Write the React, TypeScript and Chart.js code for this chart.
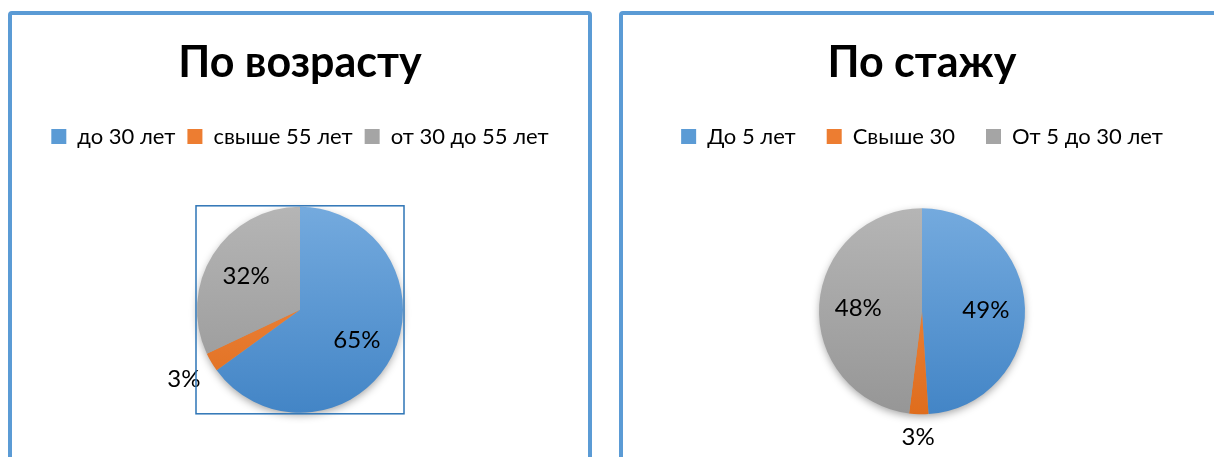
import React, { useEffect, useRef } from "react";
import { Chart, registerables } from "chart.js";

Chart.register(...registerables);

// ---- data ----
const ageTitle = "По возрасту";
const ageLabels = ["до 30 лет", "свыше 55 лет", "от 30 до 55 лет"];
const ageValues = [65, 3, 32];

const expTitle = "По стажу";
const expLabels = ["До 5 лет", "Свыше 30", "От 5 до 30 лет"];
const expValues = [49, 3, 48];

// ---- style ----
const sliceTop = ["#74AADE", "#F38E4A", "#B5B5B5"];
const sliceBottom = ["#4385C6", "#DF6D1D", "#969696"];
const sliceFlat = ["#5B9BD5", "#ED7D31", "#A5A5A5"];
const FONT = "Lato, 'Noto Sans', sans-serif";
const PIE_R = 103;

const pieExtras = {
  id: "pieExtras",
  beforeDatasetsDraw(chart: any) {
    const meta = chart.getDatasetMeta(0);
    const a = meta.data[0];
    if (!a) return;
    const ctx = chart.ctx;
    ctx.save();
    ctx.shadowColor = "rgba(0,0,0,0.38)";
    ctx.shadowBlur = 9;
    ctx.shadowOffsetY = 3;
    ctx.beginPath();
    ctx.arc(a.x, a.y, a.outerRadius - 1, 0, Math.PI * 2);
    ctx.fillStyle = "#a0a0a0";
    ctx.fill();
    ctx.restore();
  },
  afterDatasetsDraw(chart: any, _args: any, opts: any) {
    const meta = chart.getDatasetMeta(0);
    const values: number[] = chart.data.datasets[0].data;
    const total = values.reduce((s, v) => s + v, 0);
    const ctx = chart.ctx;
    ctx.save();
    ctx.font = `24px ${FONT}`;
    ctx.fillStyle = "#000";
    ctx.textAlign = "center";
    ctx.textBaseline = "middle";
    meta.data.forEach((arc: any, i: number) => {
      const frac = values[i] / total;
      const mid = (arc.startAngle + arc.endAngle) / 2;
      const c = Math.cos(mid);
      const s = Math.sin(mid);
      const text = Math.round(frac * 100) + "%";
      let d: number;
      if (frac > 0.06) {
        d = arc.outerRadius * 0.62;
      } else {
        const w = ctx.measureText(text).width;
        d = arc.outerRadius + 13 + Math.abs(c) * (w / 2) + Math.abs(s) * 9;
      }
      ctx.fillText(text, arc.x + c * d, arc.y + s * d + 1);
    });
    if (opts && opts.selection) {
      const a = meta.data[0];
      const r = a.outerRadius;
      ctx.strokeStyle = "#2E75B6";
      ctx.lineWidth = 1.5;
      ctx.strokeRect(a.x - r - 1, a.y - r - 1, 2 * r + 2, 2 * r + 2);
    }
    ctx.restore();
  },
};

function sliceColor(context: any) {
  const chart = context.chart;
  const area = chart.chartArea;
  const i = context.dataIndex;
  if (!area) return sliceFlat[i];
  const cy = (area.top + area.bottom) / 2;
  const g = chart.ctx.createLinearGradient(0, cy - PIE_R, 0, cy + PIE_R);
  g.addColorStop(0, sliceTop[i]);
  g.addColorStop(1, sliceBottom[i]);
  return g;
}

type PieProps = {
  title: string;
  labels: string[];
  values: number[];
  width: number;
  height: number;
  titlePadTop: number;
  titlePadBottom: number;
  legendPad: number;
  bottomPad: number;
  selection: boolean;
};

function PieChart(p: PieProps) {
  const ref = useRef<HTMLCanvasElement>(null);
  useEffect(() => {
    if (!ref.current) return;
    const chart = new Chart(ref.current, {
      type: "pie",
      data: {
        labels: p.labels,
        datasets: [
          {
            data: p.values,
            backgroundColor: sliceColor as any,
            borderWidth: 0,
            radius: PIE_R,
          } as any,
        ],
      },
      options: {
        animation: false,
        responsive: false,
        maintainAspectRatio: false,
        rotation: 0,
        layout: { padding: { top: 0, left: 0, right: 0, bottom: p.bottomPad } },
        plugins: {
          title: {
            display: true,
            text: p.title,
            color: "#000",
            font: { family: FONT, weight: "bold", size: 43 },
            padding: { top: p.titlePadTop, bottom: p.titlePadBottom },
          },
          legend: {
            display: true,
            position: "top",
            labels: {
              color: "#000",
              font: { family: FONT, size: 22 },
              boxWidth: 15,
              boxHeight: 15,
              padding: p.legendPad,
              generateLabels: (c: any) =>
                c.data.labels.map((t: string, i: number) => ({
                  text: t,
                  fillStyle: sliceFlat[i],
                  strokeStyle: sliceFlat[i],
                  lineWidth: 0,
                  hidden: false,
                  index: i,
                })),
            },
          },
          tooltip: { enabled: false },
          pieExtras: { selection: p.selection },
        } as any,
      },
      plugins: [pieExtras],
    });
    return () => chart.destroy();
  }, []);
  return (
    <canvas
      ref={ref}
      width={p.width}
      height={p.height}
      style={{ display: "block", width: p.width, height: p.height }}
    />
  );
}

const panelStyle = (left: number, width: number): React.CSSProperties => ({
  position: "absolute",
  left,
  top: 11,
  width,
  height: 470,
  border: "4px solid #5B9BD5",
  borderRadius: 4,
  background: "#fff",
  overflow: "hidden",
});

export default function App() {
  return (
    <div
      style={{
        position: "fixed",
        left: 0,
        top: 0,
        width: 1214,
        height: 457,
        overflow: "hidden",
        background: "#fff",
      }}
    >
      <div style={panelStyle(8, 576)}>
        <PieChart
          title={ageTitle}
          labels={ageLabels}
          values={ageValues}
          width={576}
          height={460}
          titlePadTop={22}
          titlePadBottom={25}
          legendPad={12}
          bottomPad={13}
          selection={true}
        />
      </div>
      <div style={panelStyle(619, 598)}>
        <PieChart
          title={expTitle}
          labels={expLabels}
          values={expValues}
          width={598}
          height={460}
          titlePadTop={22}
          titlePadBottom={6}
          legendPad={31}
          bottomPad={10}
          selection={false}
        />
      </div>
    </div>
  );
}
